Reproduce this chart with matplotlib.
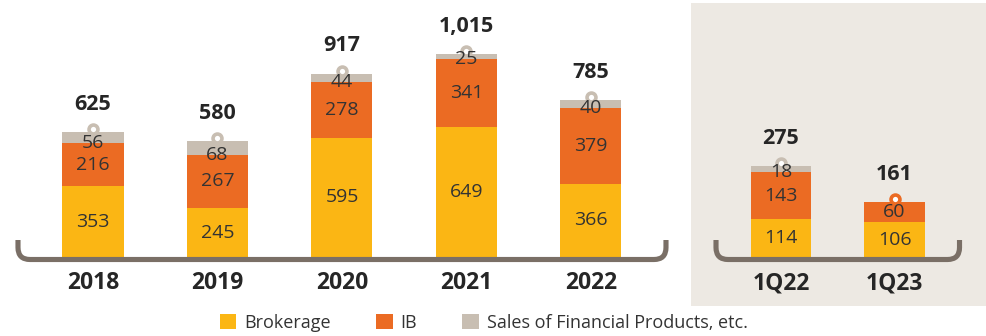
import matplotlib
matplotlib.use("Agg")
import matplotlib.pyplot as plt
import matplotlib.transforms as mtransforms
from matplotlib.path import Path
from matplotlib.patches import PathPatch, Rectangle, Patch
import numpy as np

# Annual figures
years = ["2018", "2019", "2020", "2021", "2022"]
brokerage_y = [353, 245, 595, 649, 366]
ib_y = [216, 267, 278, 341, 379]
sales_y = [56, 68, 44, 25, 40]
totals_y = [625, 580, 917, 1015, 785]

# Quarterly figures
quarters = ["1Q22", "1Q23"]
brokerage_q = [114, 106]
ib_q = [143, 60]
sales_q = [18, 0]
totals_q = [275, 161]

series_names = ["Brokerage", "IB", "Sales of Financial Products, etc."]

C_BROK = "#FBB614"
C_IB = "#EB6B23"
C_SALES = "#C8BEB2"
C_LINE = "#7A6F66"
C_PANEL = "#EDE9E3"
TXT = "#262626"
TXT_SEG = "#333333"

plt.rcParams["font.family"] = ["Open Sans", "DejaVu Sans"]

W, H = 987, 336
fig = plt.figure(figsize=(W / 100, H / 100), dpi=100)
fig.patch.set_facecolor("white")

# figure pixel coordinates, origin at bottom-left
px = mtransforms.Affine2D().scale(1 / fig.dpi) + fig.dpi_scale_trans

# shaded background behind the quarterly panel
fig.add_artist(Rectangle((691, H - 306), 295, 303, transform=px,
                         facecolor=C_PANEL, edgecolor="none", zorder=0))

base = 79
axL = fig.add_axes([0, base / H, 680 / W, (H - base) / H])
axR = fig.add_axes([691 / W, base / H, 295 / W, (H - base) / H])
for ax in (axL, axR):
    ax.set_facecolor("none")
    ax.axis("off")
axL.set_xlim(-0.747, 4.715)
axL.set_ylim(0, 1285)
axR.set_xlim(-0.793, 1.806)
axR.set_ylim(0, 779)


def bracket(x0, x1, yb=76.5, yt=96, r=12):
    verts = [(x0, yt), (x0, yb + r), (x0, yb), (x0 + r, yb),
             (x1 - r, yb), (x1, yb), (x1, yb + r), (x1, yt)]
    codes = [Path.MOVETO, Path.LINETO, Path.CURVE3, Path.CURVE3,
             Path.LINETO, Path.CURVE3, Path.CURVE3, Path.LINETO]
    fig.add_artist(PathPatch(Path(verts, codes), transform=px, fill=False,
                             edgecolor=C_LINE, linewidth=3.7,
                             capstyle="butt", joinstyle="round", zorder=5))


def draw_panel(ax, labels, brok, ib, sales, totals, width, margin):
    x = np.arange(len(labels))
    brok = np.asarray(brok)
    ib = np.asarray(ib)
    sales = np.asarray(sales)
    ax.bar(x, brok, width, color=C_BROK, zorder=2)
    ax.bar(x, ib, width, bottom=brok, color=C_IB, zorder=2)
    bi = brok + ib
    ax.bar(x, sales, width, bottom=bi, color=C_SALES, zorder=2)
    tops = bi + sales
    ring_tr = mtransforms.offset_copy(ax.transData, fig=fig, y=3, units="dots")
    for xi, b, i, s, t, top, lab in zip(x, brok, ib, sales, totals, tops, labels):
        ax.text(xi, b / 2, f"{b}", ha="center", va="center",
                fontsize=14, color=TXT_SEG, zorder=6)
        ax.text(xi, b + i / 2, f"{i}", ha="center", va="center",
                fontsize=14, color=TXT_SEG, zorder=6)
        if s > 0:
            ax.text(xi, b + i, f"{s}", ha="center", va="center",
                    fontsize=14, color=TXT_SEG, zorder=6)
        ring_col = C_SALES if s > 0 else C_IB
        ax.plot([xi], [top], marker="o", ms=6.4, mfc="white", mec=ring_col,
                mew=2.6, transform=ring_tr, zorder=4, linestyle="none")
        ax.annotate(f"{t:,}", (xi, top), xytext=(0, 20),
                    textcoords="offset points", ha="center", va="center",
                    fontsize=15.5, fontweight="bold", color=TXT, zorder=6)
        ax.annotate(lab, (xi, 0), xytext=(0, -19),
                    textcoords="offset points", ha="center", va="center",
                    fontsize=16.5, fontweight="bold", color=TXT, zorder=6)
    x0 = ax.transData.transform((x[0], 0))[0] - margin
    x1 = ax.transData.transform((x[-1], 0))[0] + margin
    bracket(x0 * 100 / fig.dpi, x1 * 100 / fig.dpi)


draw_panel(axL, years, brokerage_y, ib_y, sales_y, totals_y, 0.49, 75)
draw_panel(axR, quarters, brokerage_q, ib_q, sales_q, totals_q, 0.537, 65)

handles = [Patch(facecolor=c, edgecolor="none") for c in (C_BROK, C_IB, C_SALES)]
leg = fig.legend(handles, series_names, loc="center",
                 bbox_to_anchor=(484 / W, (H - 323) / H), ncol=3, frameon=False,
                 fontsize=13, handlelength=0.9, handleheight=0.9,
                 handletextpad=0.45, columnspacing=2.5)
for t in leg.get_texts():
    t.set_color(TXT_SEG)

fig.savefig("out.png", dpi=100, facecolor="white")
